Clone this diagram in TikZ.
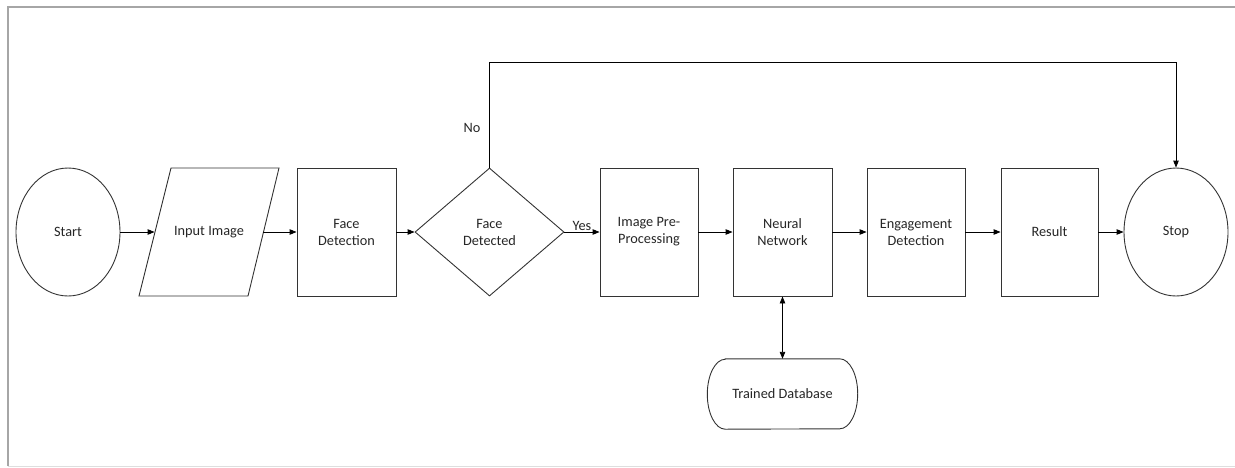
\documentclass[tikz,border=0pt]{standalone}
\usepackage{fontspec}
\setmainfont{Carlito}
\usetikzlibrary{shapes.geometric,arrows.meta,calc}
\begin{document}
\begin{tikzpicture}[x=1pt,y=1pt,
 every node/.style={font=\fontsize{14.3}{17}\selectfont, text=black!85, align=center},
 outline/.style={draw=black!80, line width=0.9pt},
 box/.style={outline, rectangle, minimum height=128pt, inner sep=0pt},
 term/.style={outline, ellipse, minimum width=104pt, minimum height=128pt, inner sep=0pt},
 dec/.style={outline, diamond, minimum width=149pt, minimum height=128pt, inner sep=0pt},
 tip/.style={Triangle[length=7pt,width=5.5pt]},
 conn/.style={line width=0.9pt, draw=black, -{Triangle[length=7pt,width=5.5pt]}},
 biconn/.style={line width=0.9pt, draw=black, {Triangle[length=7pt,width=5.5pt]}-{Triangle[length=7pt,width=5.5pt]}}
]
\useasboundingbox (0,0) rectangle (1235,-467);
% frame
\draw[black!35, line width=2pt] (7.5,-466) -- (7.5,-6.5) -- (1235,-6.5);
\draw[black!13, line width=1pt] (7.5,-466) -- (1235,-466);

% nodes
\node[term] (start) at (68,-232) {Start};
\node[minimum width=108.5pt, minimum height=128pt, inner sep=0pt] (in) at (209,-232) {Input Image};
\draw[outline] (171,-168) -- (279,-168) -- (248,-296) -- (139,-296) -- cycle;
\node[box, minimum width=99pt] (fd) at (346.5,-232) {Face\\Detection};
\node[dec] (dd) at (489.5,-232) {Face\\Detected};
\node[box, minimum width=98pt] (pre) at (649,-232) {Image Pre-\\Processing};
\node[box, minimum width=99pt] (nn) at (782.5,-232) {Neural\\Network};
\node[box, minimum width=98pt] (eng) at (916,-232) {Engagement\\Detection};
\node[box, minimum width=97pt] (res) at (1049.5,-232) {Result};
\node[term] (stop) at (1176,-232) {Stop};
\node[minimum width=150pt, minimum height=70pt, inner sep=0pt] (db) at (782.5,-394) {Trained Database};
\draw[outline] ([xshift=18pt]db.north west) -- ([xshift=-18pt]db.north east)
  arc[start angle=90, end angle=-90, x radius=18pt, y radius=35pt]
  -- ([xshift=18pt]db.south west)
  arc[start angle=270, end angle=90, x radius=18pt, y radius=35pt] -- cycle;

% connectors
\draw[conn] (start) -- (in);
\draw[conn] (in) -- (fd);
\draw[conn] (fd) -- (dd);
\draw[conn] (dd) -- node[above=0pt, inner sep=1pt] (yes) {Yes} (pre);
\draw[conn] (pre) -- (nn);
\draw[conn] (nn) -- (eng);
\draw[conn] (eng) -- (res);
\draw[conn] (res) -- (stop);
\draw[biconn] (nn.south) -- (db.north);
\coordinate (top) at (489.5,-62);
\draw[conn] (dd.north) -- (dd.north |- top) -- (stop.north |- top) -- (stop.north);
\node (no) at (472,-128) {No};
\end{tikzpicture}
\end{document}
